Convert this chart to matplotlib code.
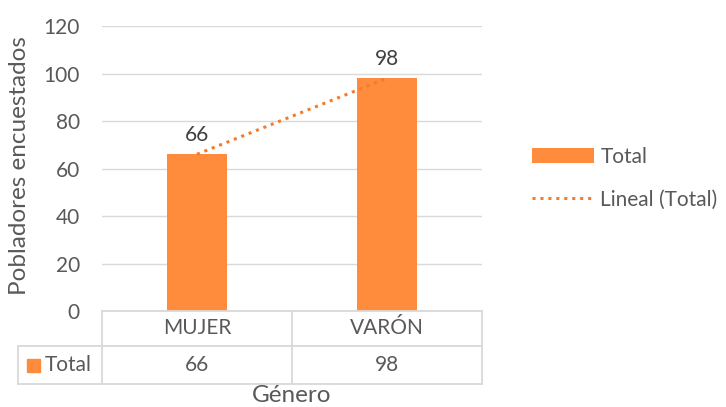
import matplotlib.pyplot as plt
import numpy as np
from matplotlib.patches import Patch, Rectangle
from matplotlib.lines import Line2D

# datos
categorias = ['MUJER', 'VARÓN']
totales = [66, 98]
serie = 'Total'
ticks_y = [0, 20, 40, 60, 80, 100, 120]

naranja = '#FF8B3D'
naranja_linea = '#F47B2C'
gris_texto = '#595959'
gris_linea = '#D9D9D9'

plt.rcParams['font.family'] = ['Lato', 'DejaVu Sans']
fs = 15
fs_titulo = 17.5

W, H = 726, 407
fig = plt.figure(figsize=(W / 100, H / 100), dpi=100, facecolor='white')

# área de trazado (px -> fracción)
x0, x1 = 102, 482
y_top, y_bot = 26, 311
ax = fig.add_axes([x0 / W, 1 - y_bot / H, (x1 - x0) / W, (y_bot - y_top) / H])

x = np.arange(len(categorias))
ax.bar(x, totales, width=0.32, color=naranja, zorder=3)

# línea de tendencia lineal
m, b = np.polyfit(x, totales, 1)
ax.plot(x, m * x + b, linestyle=(0, (1, 1.6)), color=naranja_linea, linewidth=2.2, zorder=4)

# etiquetas de datos
for xi, v in zip(x, totales):
    ax.text(xi, v + 4, str(v), ha='center', va='bottom', fontsize=fs, color='#404040')

ax.set_xlim(-0.5, len(categorias) - 0.5)
ax.set_ylim(0, 120)
ax.set_yticks(ticks_y)
ax.set_yticklabels([str(t) for t in ticks_y], fontsize=fs, color=gris_texto)
ax.tick_params(axis='y', length=0, pad=16)
ax.set_xticks([])
ax.grid(axis='y', color=gris_linea, linewidth=1, zorder=0)
for s in ax.spines.values():
    s.set_visible(False)

# tabla de datos
def fx(px):
    return px / W

def fy(py):
    return 1 - py / H

fig.text(fx(20), fy(166), 'Pobladores encuestados', rotation=90, ha='center', va='center',
         fontsize=fs_titulo, color=gris_texto)

cols = [102, 292, 482]
fila1, fila2, fila3 = 311, 346, 384
izq = 18
lw = 1.3
lineas = [
    ([cols[0], cols[2]], [fila1, fila1]),
    ([izq, cols[2]], [fila2, fila2]),
    ([izq, cols[2]], [fila3, fila3]),
    ([izq, izq], [fila2, fila3]),
]
for c in cols:
    lineas.append(([c, c], [fila1, fila3]))
for xs, ys in lineas:
    fig.add_artist(Line2D([fx(v) for v in xs], [fy(v) for v in ys], color=gris_linea, linewidth=lw))

for i, (cat, v) in enumerate(zip(categorias, totales)):
    cx = (cols[i] + cols[i + 1]) / 2
    fig.text(fx(cx), fy((fila1 + fila2) / 2), cat, ha='center', va='center', fontsize=fs, color=gris_texto)
    fig.text(fx(cx), fy((fila2 + fila3) / 2), str(v), ha='center', va='center', fontsize=fs, color=gris_texto)

fig.add_artist(Rectangle((fx(27), fy(372)), fx(13), 13 / H, color=naranja, transform=fig.transFigure))
fig.text(fx(45), fy((fila2 + fila3) / 2), serie, ha='left', va='center', fontsize=fs, color=gris_texto)

fig.text(fx(292), fy(395), 'Género', ha='center', va='center', fontsize=fs_titulo, color=gris_texto)

# leyenda
handles = [
    Patch(facecolor=naranja, edgecolor='none'),
    Line2D([0], [0], color=naranja_linea, linestyle=(0, (1, 1.6)), linewidth=2.2),
]
fig.legend(handles, [serie, 'Lineal (Total)'], loc='center left',
           bbox_to_anchor=(fx(513), fy(178)), frameon=False, fontsize=fs,
           labelcolor=gris_texto, handlelength=3.0, handletextpad=0.3,
           labelspacing=1.1)

fig.savefig('out.png', dpi=100, facecolor='white')
